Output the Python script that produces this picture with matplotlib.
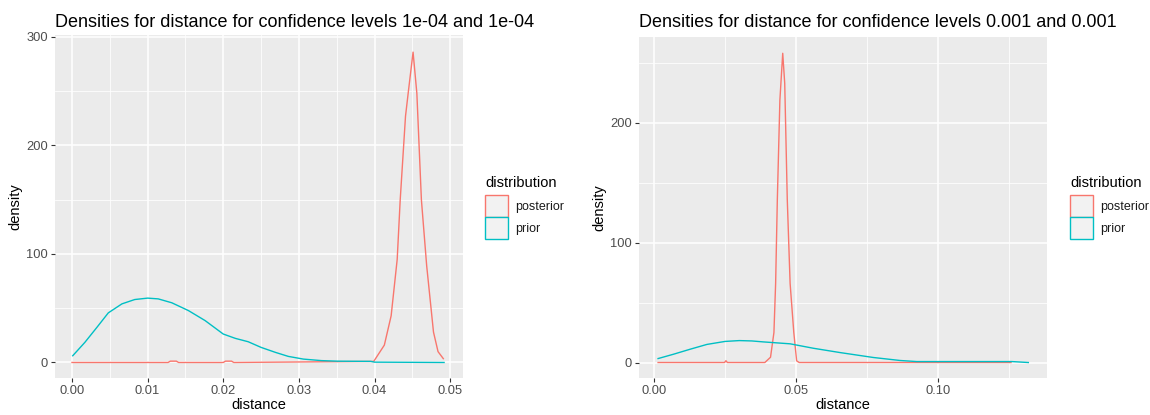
import matplotlib
matplotlib.use("Agg")
import matplotlib.pyplot as plt
from matplotlib.patches import Patch

plt.rcParams['font.family'] = ['Liberation Sans', 'DejaVu Sans']

# values
left_title = "Densities for distance for confidence levels 1e-04 and 1e-04"
right_title = "Densities for distance for confidence levels 0.001 and 0.001"

left_prior_x = [0.0001, 0.0017, 0.0033, 0.0048, 0.0066, 0.0083, 0.0100, 0.0114, 0.0132, 0.0154,
                0.0176, 0.0200, 0.0216, 0.0233, 0.0250, 0.0269, 0.0286, 0.0306, 0.0330, 0.0351,
                0.0395, 0.0400, 0.0492]
left_prior_y = [6.2, 18.5, 32.4, 45.7, 54, 58, 59.3, 58.6, 55, 47.8,
                38.6, 26.2, 22.2, 19.1, 13.9, 9.3, 5.6, 3.1, 1.7, 1.2,
                1.0, 0.3, 0.0]

left_post_x = [0.0, 0.0127, 0.0130, 0.0138, 0.0141, 0.0200, 0.0203, 0.0211, 0.0214, 0.0399,
               0.0413, 0.0422, 0.0430, 0.0434, 0.0441, 0.0445, 0.0451, 0.0456, 0.0462, 0.0469,
               0.0478, 0.0484, 0.0491]
left_post_y = [0, 0, 1.2, 1.2, 0, 0, 1.2, 1.2, 0, 1, 16, 43, 95, 150, 227, 251, 286, 248, 150, 89,
               28, 10, 3.5]

right_prior_x = [0.0014, 0.0068, 0.0127, 0.0186, 0.0250, 0.0300, 0.0344, 0.0385, 0.0479, 0.0561,
                 0.0655, 0.0772, 0.0866, 0.0925, 0.1260, 0.1318]
right_prior_y = [3.3, 6.9, 11.1, 15.1, 17.6, 18.3, 18.0, 17.2, 15.6, 11.9,
                 8.3, 4.2, 1.7, 0.8, 0.8, 0.0]

right_post_x = [0.0014, 0.0248, 0.0253, 0.0258, 0.0390, 0.0410, 0.0422, 0.0428, 0.0434, 0.0443,
                0.0453, 0.0460, 0.0469, 0.0479, 0.0492, 0.0502, 0.0511, 0.1257]
right_post_y = [0, 0, 1.5, 0, 0, 4.4, 25, 66, 136, 219, 258, 233, 136, 66, 25, 1.4, 0, 0]

left_xticks = [0.0, 0.01, 0.02, 0.03, 0.04, 0.05]
left_xlabels = ["0.00", "0.01", "0.02", "0.03", "0.04", "0.05"]
left_yticks = [0, 100, 200, 300]
right_xticks = [0.0, 0.05, 0.10]
right_xlabels = ["0.00", "0.05", "0.10"]
right_yticks = [0, 100, 200]

series_names = ["posterior", "prior"]
colors = {"posterior": "#F8766D", "prior": "#00BFC4"}


def style_panel(ax, xticks, xlabels, yticks, xminor, yminor):
    ax.set_facecolor("#EBEBEB")
    for s in ax.spines.values():
        s.set_visible(False)
    ax.set_xticks(xticks)
    ax.set_xticklabels(xlabels)
    ax.set_yticks(yticks)
    ax.set_xticks(xminor, minor=True)
    ax.set_yticks(yminor, minor=True)
    ax.grid(True, which="major", color="white", linewidth=1.1)
    ax.grid(True, which="minor", color="white", linewidth=0.55)
    ax.set_axisbelow(True)
    ax.tick_params(which="major", length=3, width=0.8, color="#333333",
                   labelsize=9.3, labelcolor="#4D4D4D", pad=2)
    ax.tick_params(which="minor", length=0)
    ax.set_xlabel("distance", fontsize=10.5, labelpad=1)
    ax.set_ylabel("density", fontsize=10.5, labelpad=3)


fig = plt.figure(figsize=(11.5, 4.15), dpi=100)
ax1 = fig.add_axes([0.0478, 0.0892, 0.3548, 0.8265])
ax2 = fig.add_axes([0.5557, 0.0892, 0.3548, 0.8217])

ax1.plot(left_post_x, left_post_y, color=colors["posterior"], lw=1.0)
ax1.plot(left_prior_x, left_prior_y, color=colors["prior"], lw=1.0)
ax1.set_xlim(-0.00225, 0.0517)
ax1.set_ylim(-14.3, 301.8)
style_panel(ax1, left_xticks, left_xlabels, left_yticks,
            [0.005, 0.015, 0.025, 0.035, 0.045], [50, 150, 250])
ax1.set_title(left_title, fontsize=13, loc="left", pad=6)

ax2.plot(right_post_x, right_post_y, color=colors["posterior"], lw=1.0)
ax2.plot(right_prior_x, right_prior_y, color=colors["prior"], lw=1.0)
ax2.set_xlim(-0.0053, 0.1384)
ax2.set_ylim(-12.9, 271.6)
style_panel(ax2, right_xticks, right_xlabels, right_yticks,
            [0.025, 0.075, 0.125], [50, 150, 250])
ax2.set_title(right_title, fontsize=13, loc="left", pad=7)

# legends: title as text, keys as a legend below it
for x0 in [485, 1070]:
    fig.text(x0 / 1150, 1 - 183 / 415, "distribution", fontsize=10.5,
             ha="left", va="center")
    handles = [Patch(facecolor="#F2F2F2", edgecolor=colors[n], linewidth=1.0, label=n)
               for n in series_names]
    leg = fig.legend(handles=handles, loc="upper left",
                     bbox_to_anchor=(x0 / 1150, 1 - 195 / 415), frameon=False,
                     fontsize=9, handlelength=1.85, handleheight=2.35,
                     labelspacing=0.0, handletextpad=0.6,
                     borderpad=0, borderaxespad=0)
    for t in leg.get_texts():
        t.set_color("#1A1A1A")

fig.savefig("out.png", dpi=100)
